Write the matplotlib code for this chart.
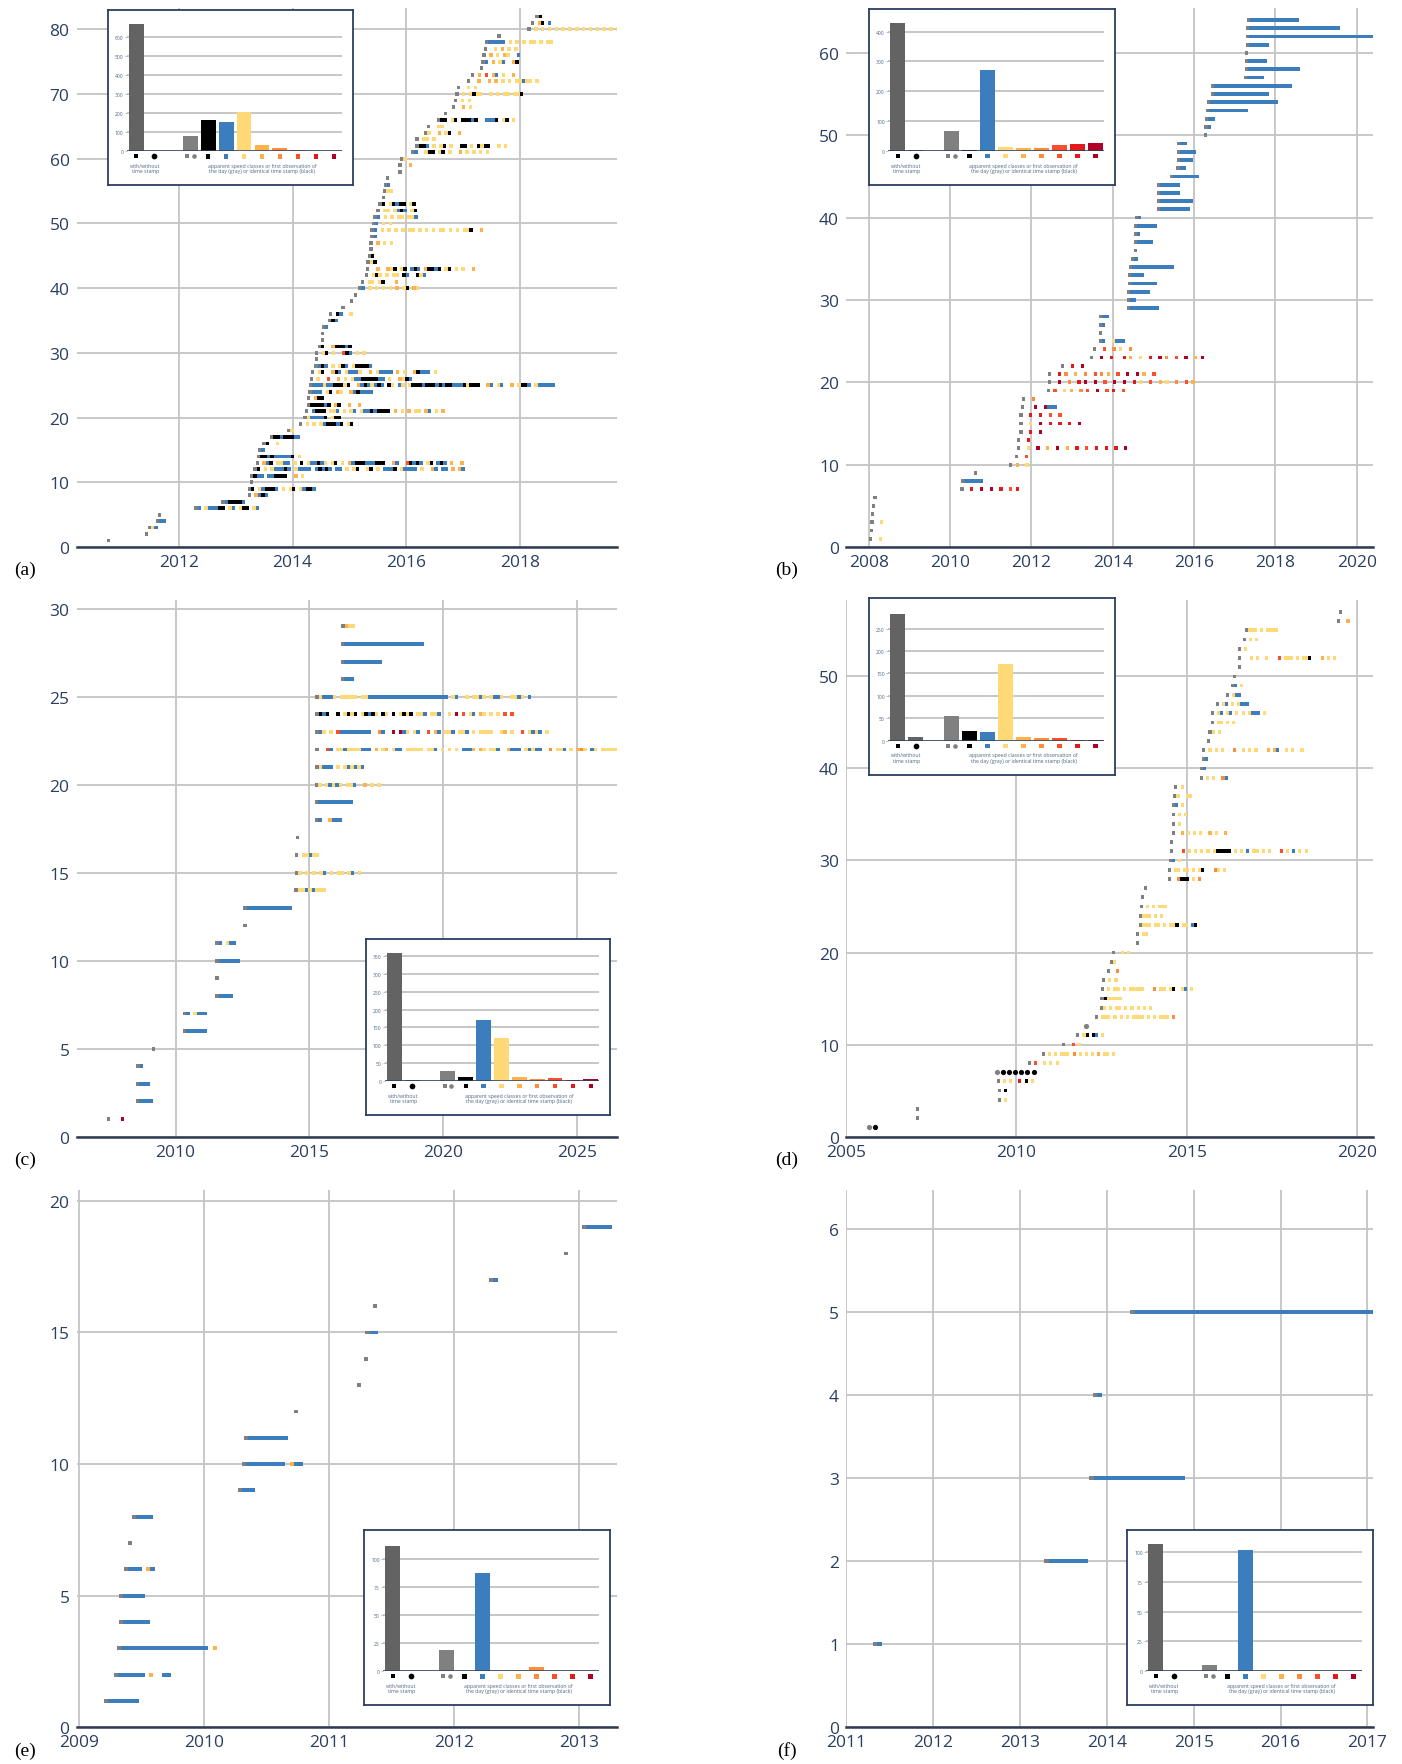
import re
import matplotlib
matplotlib.use("Agg")
import matplotlib.pyplot as plt
from matplotlib.transforms import blended_transform_factory

plt.rcParams['font.family'] = ['Open Sans', 'DejaVu Sans']

W, H = 1402, 1765
BLUE = '#3b7dbd'
COLORS = {'g': '#808080', 'k': '#000000', 'b': BLUE, 'y': '#fed976', 'o': '#feb24c',
          'O': '#fd8d3c', 'r': '#fc4e2a', 'R': '#e31a1c', 'd': '#b10026'}
CIRCLE_COLORS = {'c': '#000000', 'C': '#808080'}
INSET_COLORS = ['#636363', '#636363', '#808080', '#000000', BLUE, '#fed976', '#feb24c',
                '#fd8d3c', '#fc4e2a', '#e31a1c', '#b10026']
INSET_X = [0, 1, 3, 4, 5, 6, 7, 8, 9, 10, 11]

# ---------------- panel (a) ----------------
A_START = [2010.73, 2011.40, 2011.45, 2011.59, 2011.63, 2012.27, 2012.75, 2013.21, 2013.21, 2013.25,
           2013.25, 2013.31, 2013.35, 2013.37, 2013.39, 2013.47, 2013.60, 2013.90, 2014.11, 2014.19,
           2014.22, 2014.25, 2014.25, 2014.28, 2014.29, 2014.30, 2014.32, 2014.38, 2014.39, 2014.39,
           2014.44, 2014.50, 2014.50, 2014.51, 2014.62, 2014.64, 2014.86, 2015.01, 2015.08, 2015.15,
           2015.20, 2015.27, 2015.29, 2015.30, 2015.32, 2015.35, 2015.35, 2015.37, 2015.37, 2015.39,
           2015.42, 2015.47, 2015.51, 2015.57, 2015.59, 2015.60, 2015.64, 2015.86, 2015.86, 2015.89,
           2016.08, 2016.16, 2016.16, 2016.31, 2016.36, 2016.54, 2016.66, 2016.80, 2016.84, 2016.86,
           2016.89, 2017.07, 2017.14, 2017.29, 2017.32, 2017.34, 2017.36, 2017.38, 2017.60, 2018.13,
           2018.19, 2018.27]
A_PAT = ["g", "g", "gyb", "gb2", "g", "gb.yb3k2.yb.yk2.yb", "gbk4b", "g.obkb", "gk.ybk3b.y.yk.ybk2b", "g",
         "gkb2.b2k4.2o.y",
         "gk.y.yb3kb.yb4.bkbkb.b2.y.yk.2yk.y.b3k.yb4.y.2ob.b2.o.ob",
         "g.obk.y2b2.y.k.yb2kby.yk.y.obk3b3k3.2ob.2rkbkb.yk.bkb.o.2o",
         "gk2bkb5k.y", "gb", "gk.2y", "gk2bk3b2", "gy", "g.y.y.ybk3bk.yk", "gyb4k.yk2",
         "g.bk3.y2b.y.yb.yb2kbk4.o.y.o.y2.ob.y.o", "gk4bk.ok.2o.2o", "g.ok2", "gb3.yk.oy.2obkb4",
         "gb3yb2k3yk.2obkbybkb.ky.by.yk3bk3bkbk2b3kyk3.2ob.yb.2o.yk2b.yb5",
         "g.y.2r.2o.y.yb2k5b2.y.2oykb", "g.yk.2okb.yb3y.2o.yb4.o.y.2okb3.y", "gbkb.y.ykb.yk4b", "g",
         "g.yk.y.2rkb.y.y",
         "gk.2ok3bk", "g", "g", "gb", "gkb", "g.kb.2y", "g", "g", "g", "gb.y.y.y.y.o.yk.oy",
         "g.y2.yk.3o", "g.yky.y.y2.kb.2kyb", "g.2o.2oyk.yk.bkb.ok2bk.yk.y.y.2o", "gyk", "gk", "g",
         "g.o.y.y", "gb", "gb.y.y.y.y.y2.y.y.y.y2.y.y.y2k.2o", "gb.y.y",
         "gb.y.y.yy.y2b", "g.y2.ybkb.yk", "gk.ykbk2.yk", "g", "gyy", "gb", "g", "g", "g.2o", "gy",
         "gb.2yk2.yk.y.2o.y.y.y.y", "gk2b.y.yk.y.2k2.y.kyk2.2y.y", "g.y2.y", "gy.2o.yk.2o", "g.2y2",
         "gk2.yk.k3bk.2b3k.yk.y", "g", "g.2o.y", "g.y.y", "g.y.yky2.2y.y.y2.y2k",
         "g.2y.y", "g.2o.2o.o.y.y.y2by2.y", "g.o.r.ob.y.2o", "g", "gb.o.yb.2ok",
         "g.o.y.oy.2b", "g.2y.o.y.y", "gb5.y.y.y.y2.y.y2", "g",
         "g.y.y.y.y.y.y.y.y.y.y.y.y.y.y.y2.y.y.b", "g.ok.b", "gk"]
A_BARS = [670, 2, 80, 165, 155, 207, 33, 18, 5, 2, 2]

# ---------------- panel (b) ----------------
B_START = [2008.00, 2008.03, 2008.04, 2008.05, 2008.08, 2008.11, 2010.25, 2010.26, 2010.59, 2011.45,
           2011.60, 2011.64, 2011.64, 2011.70, 2011.70, 2011.70, 2011.74, 2011.77, 2012.38, 2012.41,
           2012.41, 2012.73, 2013.44, 2013.51, 2013.66, 2013.66, 2013.66, 2013.66, 2014.34, 2014.34,
           2014.35, 2014.37, 2014.37, 2014.39, 2014.45, 2014.52, 2014.52, 2014.52, 2014.52, 2014.54,
           2015.09, 2015.09, 2015.09, 2015.09, 2015.41, 2015.56, 2015.57, 2015.57, 2015.58, 2016.24,
           2016.25, 2016.27, 2016.28, 2016.31, 2016.41, 2016.41, 2017.23, 2017.24, 2017.24, 2017.24,
           2017.27, 2017.27, 2017.27, 2017.29]
B_PAT = ["g.2y", "g", "g.2y", "g", "g", "g", "g.2R.2d.2d.2R.2r.R", "gb6", "g", "g.o.2y",
         "g.2r", "g.2y.2d.2o.2d.2o.2R.2r.2R.2R.2R.2d", "g.2R", "g.2R.2d", "g.2y.2d.2R.2R.2R.2d",
         "g.2R.2R.2r.2r", "g.3d.2db3", "g.2O", "g.r.2y.o.2O.r.2d.2r.R.2r",
         "g.2d.2O.2R.d.2d.2r.2d.2d.2R.y.2r.2o.y.2O.2r.o",
         "g.2R.O.2o.2O.2r.O.o.2r.2d.2d.o.2r", "g.2R.2d", "g.2d.2R.3R.o.2y.2R.2d.O.2r.2d.2o.d",
         "g.2r.2O.y.2O", "gb.2yb3", "g", "gb", "gb2", "gb9", "gb2",
         "gb6", "gb8", "gb4", "gb13", "gb", "g", "gb5", "gb", "gb6", "gb",
         "gb9", "gb10", "gb6", "gb6", "gb8", "gb2", "gb4", "gb5", "gb2", "g",
         "gb", "gb2", "gb12", "gb21", "gb17", "gb24", "gb5", "gb16", "gb6", "g",
         "gb6", "gb40", "gb28", "gb15"]
B_BARS = [428, 2, 65, 2, 270, 12, 10, 10, 20, 23, 26]

# ---------------- panel (c) ----------------
C_START = [2007.43, 2008.51, 2008.51, 2008.53, 2009.12, 2010.27, 2010.27, 2011.48, 2011.48, 2011.48,
           2011.48, 2012.52, 2012.52, 2014.44, 2014.46, 2014.46, 2014.48, 2015.19, 2015.19, 2015.19,
           2015.22, 2015.22, 2015.22, 2015.22, 2015.22, 2016.16, 2016.16, 2016.16, 2016.18]
C_PAT = ["g.3d", "gb4", "gb3", "gb", "g", "gb6", "gb.yb3", "gb4", "g", "gb6",
         "gb.yb2", "g", "gb13", "gyybyby3", "gy.y.y.yb.y.yy.yb.y", "g.yyby2", "g", "gb.2ob3", "gb10",
         "gy.ybyby.y2b.2o.y.y",
         "gyb3.y.ybybyb",
         "g.2rb.y2by4b3.o.yo.yb2.y5.y2b.y.y.y.b3o.oy.y2b.2ob3.ybyb2.2O.y2b.y.oOy.by.y5",
         "gby.y.rb9.2Ob.2d.dby.yb.2r.ob.y2b.y2b.y.y4.2yo.y.2r.ybyb.y",
         "gkbk.2k.ykyk.ykbky.ky.k.ykyk.y2b.y2b.2y.d.r.yb.oy.y.y.r.r",
         "gyb3y.y5.y2b23.yb.2y.y2by.yb2y.2y2by.b",
         "gb3", "gb11", "gb23", "goy2"]
C_BARS = [358, 2, 27, 10, 171, 121, 11, 5, 8, 1, 5]

# ---------------- panel (d) ----------------
D_START = [2005.62, 2007.05, 2007.05, 2009.45, 2009.47, 2009.43, 2009.38, 2010.34, 2010.75, 2011.35,
           2011.76, 2011.99, 2012.31, 2012.45, 2012.47, 2012.49, 2012.52, 2012.66, 2012.75, 2012.81,
           2013.51, 2013.51, 2013.59, 2013.59, 2013.62, 2013.66, 2013.74, 2014.44, 2014.44, 2014.47,
           2014.50, 2014.50, 2014.56, 2014.56, 2014.56, 2014.56, 2014.61, 2014.64, 2015.39, 2015.39,
           2015.46, 2015.46, 2015.59, 2015.64, 2015.71, 2015.71, 2015.85, 2016.15, 2016.29, 2016.37,
           2016.50, 2016.50, 2016.50, 2016.64, 2016.70, 2019.42, 2019.48]
D_PAT = ["C.c", "g", "g", "g.y", "g.k", "g.y.y.2R.k.y", "C.c.c.c.c.c.c", "g.r.2y.y.y",
         "g.y.y.y3.O.y.y.y.o.y2.y", "g.2r.y",
         "g.yk.kb.y", "C", "g.y3.y.y.y.y4.y.y.y3.O", "gy.y.y2.y.y.y.y.y", "gky5",
         "g.y.y2.y.y5.3O.y2.yk.2yb.y", "g.y.y", "g.2O", "gy", "g.2y.y",
         "g", "g.y2", "gy3.y2.y.y2k.y2.bk", "gy2y.y.y", "g.y.y.y3", "g", "g", "g.2Ok3.y.O",
         "g.y2.y2.y.yk.3Oy.y", "gb.y",
         "g.3r.y.y.y.y.yk5.y.y.b.y2.y.y.3r.y.b.y.y", "g", "g.2o.y.y.y.2o.y.2o", "g.y", "g.y.y",
         "gb.y", "gy.2y2", "g.y", "g.y.y.2Ob", "gb",
         "gb", "g.y.y.y.3O.2y.y.y.3o.ob.2y.y.2y", "g", "gy.y", "g.y2.y.y", "g.yb.yb.y.y.yb3.y",
         "g.yb.y.yb3", "g.yb2", "gb.y", "g",
         "g", "g.3y.y.2y.3r.y3.y.y2k.3o.y.y", "g.y", "g.y.y", "gy3.y.y4", "g.2o", "g"]
D_BARS = [283, 9, 55, 22, 20, 172, 9, 7, 5, 2, 1]

# ---------------- panel (e) ----------------
E_START = [2009.20, 2009.28, 2009.30, 2009.32, 2009.32, 2009.36, 2009.39, 2009.42, 2010.27, 2010.30,
           2010.32, 2010.72, 2011.22, 2011.28, 2011.29, 2011.35, 2012.28, 2012.88, 2013.02]
E_PAT = ["gb7", "gb6.o.2b2", "gb20.o", "gb6", "gb5", "gb3.ob", "g", "gb4", "gb3", "gb9.ob2",
         "gb9", "g", "g", "g", "gb2", "g", "gb", "g", "gb6"]
E_BARS = [112, 0, 19, 0, 88, 0, 1, 4, 0, 0, 0]

# ---------------- panel (f) ----------------
F_START = [2011.31, 2013.28, 2013.80, 2013.84, 2014.27]
F_PAT = ["gb", "gb9", "gb21", "gb", "gb55"]
F_BARS = [107, 0, 5, 0, 102, 0, 0, 0, 0, 0, 0]

fig = plt.figure(figsize=(W / 100, H / 100), dpi=100)
fig.patch.set_facecolor('white')


def parse(pattern):
    runs = []
    pos = 0
    for ch, num in re.findall(r'([A-Za-z.])(\d*)', pattern):
        n = int(num) if num else 1
        if ch != '.':
            if runs and runs[-1][2] == ch and runs[-1][0] + runs[-1][1] == pos:
                runs[-1] = (runs[-1][0], runs[-1][1] + n, ch)
            else:
                runs.append((pos, n, ch))
        pos += n
    return runs


def px_rect(l, t, r, b):
    return [l / W, 1 - b / H, (r - l) / W, (b - t) / H]


def main_axes(rect, xlim, ylim, xticks, yticks):
    ax = fig.add_axes(px_rect(*rect), zorder=1)
    ax.set_xlim(*xlim)
    ax.set_ylim(*ylim)
    ax.set_xticks(xticks)
    ax.set_yticks(yticks)
    ax.set_xticklabels([str(t) for t in xticks])
    ax.set_yticklabels([str(t) for t in yticks])
    ax.grid(True, color='#c4c4c4', linewidth=1.3)
    ax.set_axisbelow(True)
    for s in ['top', 'right', 'left']:
        ax.spines[s].set_visible(False)
    ax.spines['bottom'].set_color('#2f3b50')
    ax.spines['bottom'].set_linewidth(1.8)
    ax.spines['bottom'].set_zorder(5)
    ax.tick_params(length=0, labelsize=12.5, labelcolor='#2a3f5f', pad=5)
    return ax


def draw_rows(ax, starts, patterns, slot, h):
    bars = {}
    circ = {}
    for i, (x0, pat) in enumerate(zip(starts, patterns)):
        y = i + 1
        for pos, n, ch in parse(pat):
            if ch in CIRCLE_COLORS:
                for k in range(n):
                    circ.setdefault(ch, []).append((x0 + (pos + k + 0.5) * slot, y))
            else:
                bars.setdefault(ch, []).append((x0 + pos * slot, n * slot, y))
    for ch, lst in bars.items():
        ax.bar([s[0] for s in lst], h, width=[s[1] for s in lst],
               bottom=[s[2] - h / 2 for s in lst], align='edge',
               color=COLORS[ch], linewidth=0, zorder=3)
    for ch, pts in circ.items():
        ax.scatter([p[0] for p in pts], [p[1] for p in pts], s=14,
                   color=CIRCLE_COLORS[ch], linewidths=0, zorder=4)


def inset(rect, values, ymax, ystep):
    l, t, r, b = rect
    fr = fig.add_axes(px_rect(l, t, r, b), zorder=5)
    fr.set_xticks([])
    fr.set_yticks([])
    fr.set_facecolor('white')
    for s in fr.spines.values():
        s.set_color('#2a3f5f')
        s.set_linewidth(1.3)
    w = r - l
    hh = b - t
    ax = fig.add_axes(px_rect(l + 0.078 * w, t + 0.051 * hh, l + 0.955 * w, b - 0.194 * hh), zorder=6)
    ax.patch.set_alpha(0)
    ax.bar(INSET_X, values, width=0.83, color=INSET_COLORS, zorder=3, linewidth=0)
    ax.set_xlim(-0.52, 11.46)
    ax.set_ylim(0, ymax)
    ticks = list(range(0, int(ymax) + 1, ystep))
    ax.set_yticks(ticks)
    ax.set_yticklabels([str(v) for v in ticks])
    ax.set_xticks([])
    ax.grid(axis='y', color='#b8b8b8', linewidth=1.1)
    ax.set_axisbelow(True)
    for s in ax.spines.values():
        s.set_visible(False)
    ax.axhline(0, color='#2a3f5f', linewidth=1.1, zorder=4)
    ax.tick_params(axis='y', length=1.5, width=0.5, color='#9aa5b5', labelsize=3.6,
                   labelcolor='#506784', pad=1)
    tr = blended_transform_factory(ax.transData, ax.transAxes)
    my = -0.04
    ax.scatter([0], [my], marker='s', s=10, color='#000000', transform=tr, clip_on=False, linewidths=0)
    ax.scatter([1], [my], marker='o', s=17, color='#000000', transform=tr, clip_on=False, linewidths=0)
    ax.scatter([2.81], [my], marker='s', s=10, color='#808080', transform=tr, clip_on=False, linewidths=0)
    ax.scatter([3.19], [my], marker='o', s=11, color='#808080', transform=tr, clip_on=False, linewidths=0)
    ax.scatter(INSET_X[3:], [my] * 8, marker='s', s=10, color=INSET_COLORS[3:], transform=tr,
               clip_on=False, linewidths=0)
    ax.text(0.5, -0.088, 'with/without\ntime stamp', transform=tr, ha='center', va='top',
            fontsize=3.7, color='#506784', linespacing=1.15)
    ax.text(7, -0.088, 'apparent speed classes or first observation of\n'
            'the day (gray) or identical time stamp (black)', transform=tr, ha='center',
            va='top', fontsize=3.7, color='#506784', linespacing=1.15)


# panel rectangles in pixel coordinates (left, top, right, bottom)
axA = main_axes((76.5, 9, 616.6, 548), (2010.20, 2019.70), (0, 83.3), [2012, 2014, 2016, 2018],
                list(range(0, 81, 10)))
draw_rows(axA, A_START, A_PAT, 0.06, 0.59)
axB = main_axes((846, 9, 1372.7, 548), (2007.44, 2020.39), (0, 65.45),
                [2008, 2010, 2012, 2014, 2016, 2018, 2020], list(range(0, 61, 10)))
draw_rows(axB, B_START, B_PAT, 0.08, 0.46)
axC = main_axes((76.5, 601, 616.6, 1137.6), (2006.30, 2026.47), (0, 30.5),
                [2010, 2015, 2020, 2025], list(range(0, 31, 5)))
draw_rows(axC, C_START, C_PAT, 0.13, 0.22)
axD = main_axes((846, 601, 1372.7, 1137.6), (2005.09, 2020.46), (0, 58.3),
                [2005, 2010, 2015, 2020], list(range(0, 51, 10)))
draw_rows(axD, D_START, D_PAT, 0.09, 0.41)
axE = main_axes((76.5, 1190.5, 616.6, 1728.3), (2008.98, 2013.30), (0, 20.43),
                [2009, 2010, 2011, 2012, 2013], list(range(0, 21, 5)))
draw_rows(axE, E_START, E_PAT, 0.035, 0.145)
axF = main_axes((846, 1190.5, 1372.7, 1728.3), (2011.10, 2017.06), (0, 6.47),
                [2011, 2012, 2013, 2014, 2015, 2016, 2017], list(range(0, 7)))
draw_rows(axF, F_START, F_PAT, 0.05, 0.046)

inset((108, 11, 353, 186), A_BARS, 696, 100)
inset((869, 10, 1115, 186), B_BARS, 446, 100)
inset((366, 940, 610, 1116), C_BARS, 373, 50)
inset((869, 599, 1115, 776), D_BARS, 298, 50)
inset((364, 1531, 610, 1706), E_BARS, 118, 25)
inset((1127, 1531, 1373, 1706), F_BARS, 111, 25)

for lab, (x, y) in zip(['(a)', '(b)', '(c)', '(d)', '(e)', '(f)'],
                       [(24.7, 570.5), (786.5, 570.5), (24.7, 1160), (786.5, 1160),
                        (24.7, 1751), (786.5, 1751)]):
    fig.text(x / W, 1 - y / H, lab, family=['Liberation Serif', 'DejaVu Serif'], fontsize=14,
             ha='center', va='center')

fig.savefig('out.png', dpi=100)
